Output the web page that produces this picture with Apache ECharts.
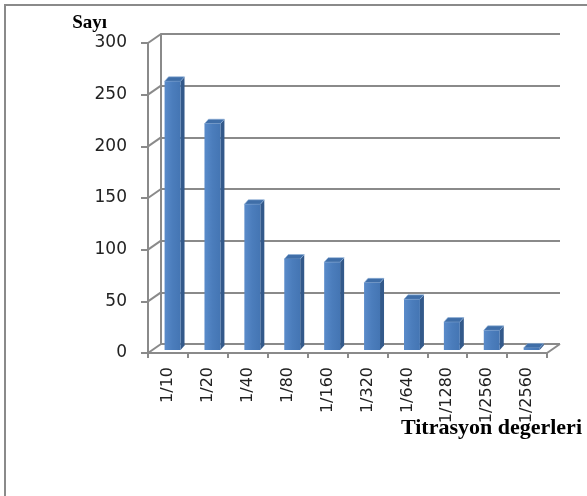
<!DOCTYPE html>
<html>
<head>
<meta charset="utf-8">
<script src="https://cdn.jsdelivr.net/npm/echarts@6/dist/echarts.min.js"></script>
<style>
  html, body { margin: 0; padding: 0; background: #fff; }
  #chart { width: 587px; height: 496px; }
</style>
</head>
<body>
<div id="chart"></div>
<script>
// Titration dilutions and how many samples reached each one
const categories = ['1/10', '1/20', '1/40', '1/80', '1/160', '1/320', '1/640', '1/1280', '1/2560', '1/2560'];
const counts = [260, 219, 141, 88, 85, 65, 49, 27, 19, 2];
const yTicks = [0, 50, 100, 150, 200, 250, 300];

// pseudo-3D geometry (pixels)
const WALL = [13, -9];        // back wall offset from the front plane
const FACE_SHIFT = [4.6, -3]; // bar front face offset from the front plane
const DEPTH = [4, -4.5];      // bar depth vector
const BAR_RATIO = 0.4;        // bar width as share of a category band

const GRID_COLOR = '#8a8a8a';

const chart = echarts.init(document.getElementById('chart'), null, { renderer: 'canvas' });

function renderWallEdges(params, api) {
  const cs = params.coordSys;
  const y = api.coord([0, api.value(1)])[1];
  const children = [{
    type: 'line',
    shape: { x1: cs.x, y1: y, x2: cs.x + WALL[0], y2: y + WALL[1] },
    style: { stroke: GRID_COLOR, lineWidth: 2 }
  }];
  if (api.value(1) === 0) {
    const xr = cs.x + cs.width;
    children.push({
      type: 'line',
      shape: { x1: xr, y1: y, x2: xr + WALL[0], y2: y + WALL[1] },
      style: { stroke: GRID_COLOR, lineWidth: 2 }
    });
  }
  return { type: 'group', children: children };
}

function renderBar(params, api) {
  const i = api.value(0);
  const base = api.coord([i, 0]);
  const top = api.coord([i, api.value(1)]);
  const w = api.size([1, 0])[0] * BAR_RATIO;
  const x0 = base[0] - w / 2 + FACE_SHIFT[0];
  const x1 = x0 + w;
  const yb = base[1] + FACE_SHIFT[1];
  const yt = top[1] + FACE_SHIFT[1];
  return {
    type: 'group',
    children: [
      {
        type: 'polygon',
        shape: { points: [[x1, yt], [x1 + DEPTH[0], yt + DEPTH[1]], [x1 + DEPTH[0], yb + DEPTH[1]], [x1, yb]] },
        style: { fill: '#33598a' }
      },
      {
        type: 'polygon',
        shape: { points: [[x0, yt], [x0 + DEPTH[0], yt + DEPTH[1]], [x1 + DEPTH[0], yt + DEPTH[1]], [x1, yt]] },
        style: { fill: '#3f6ea8', stroke: '#8fb0d8', lineWidth: 0.6 }
      },
      {
        type: 'rect',
        shape: { x: x0, y: yt, width: w, height: yb - yt },
        style: {
          fill: {
            type: 'linear', x: 0, y: 0, x2: 1, y2: 0,
            colorStops: [
              { offset: 0, color: '#5a8bca' },
              { offset: 0.5, color: '#4b7dbc' },
              { offset: 1, color: '#4475b3' }
            ]
          }
        }
      }
    ]
  };
}

const option = {
  animation: false,
  backgroundColor: '#ffffff',
  graphic: [{
    type: 'rect',
    silent: true,
    z: -10,
    shape: { x: 5, y: 5, width: 700, height: 700 },
    style: { fill: 'none', stroke: GRID_COLOR, lineWidth: 2 }
  }],
  grid: [
    { left: 148, right: 40, top: 43, bottom: 143, containLabel: false, outerBoundsMode: 'none' },
    { left: 148 + WALL[0], right: 40 - WALL[0], top: 43 + WALL[1], bottom: 143 - WALL[1], containLabel: false, outerBoundsMode: 'none' }
  ],
  xAxis: [
    {
      gridIndex: 0,
      type: 'category',
      data: categories,
      boundaryGap: true,
      axisLine: { show: true, lineStyle: { color: GRID_COLOR, width: 2 } },
      axisTick: { show: true, interval: 0, length: 5, lineStyle: { color: GRID_COLOR, width: 2 } },
      axisLabel: {
        interval: 0, rotate: 90, margin: 14, hideOverlap: false,
        fontFamily: 'DejaVu Sans', fontSize: 16, color: '#222'
      },
      name: 'Titrasyon degerleri',
      nameLocation: 'end',
      nameGap: 35,
      nameMoveOverlap: false,
      nameTextStyle: {
        fontFamily: 'Liberation Serif', fontWeight: 'bold', fontSize: 22, color: '#000',
        align: 'right', verticalAlign: 'top', padding: [64, 0, 0, 0]
      }
    },
    { gridIndex: 1, type: 'category', data: categories, show: false }
  ],
  yAxis: [
    {
      gridIndex: 0,
      type: 'value',
      min: 0, max: 300, interval: 50,
      axisLine: { show: true, lineStyle: { color: GRID_COLOR, width: 2 } },
      axisTick: { show: true, length: 7, lineStyle: { color: GRID_COLOR, width: 2 } },
      axisLabel: { margin: 21, fontFamily: 'DejaVu Sans', fontSize: 17, color: '#222' },
      splitLine: { show: false },
      name: 'Sayı',
      nameLocation: 'end',
      nameGap: 10,
      nameMoveOverlap: false,
      nameTextStyle: {
        fontFamily: 'Liberation Serif', fontWeight: 'bold', fontSize: 19, color: '#000',
        align: 'right', padding: [0, 41, 0, 0]
      }
    },
    {
      gridIndex: 1,
      type: 'value',
      min: 0, max: 300, interval: 50,
      axisLine: { show: true, lineStyle: { color: GRID_COLOR, width: 2 } },
      axisTick: { show: false },
      axisLabel: { show: false },
      splitLine: { show: true, lineStyle: { color: GRID_COLOR, width: 2 } }
    }
  ],
  series: [
    {
      type: 'custom',
      name: 'wall',
      xAxisIndex: 0, yAxisIndex: 0,
      silent: true,
      z: 1,
      renderItem: renderWallEdges,
      data: yTicks.map(v => [0, v])
    },
    {
      type: 'custom',
      name: 'Sayı',
      xAxisIndex: 0, yAxisIndex: 0,
      z: 3,
      renderItem: renderBar,
      encode: { x: 0, y: 1 },
      data: counts.map((v, i) => [i, v])
    }
  ]
};

chart.setOption(option);
</script>
</body>
</html>
